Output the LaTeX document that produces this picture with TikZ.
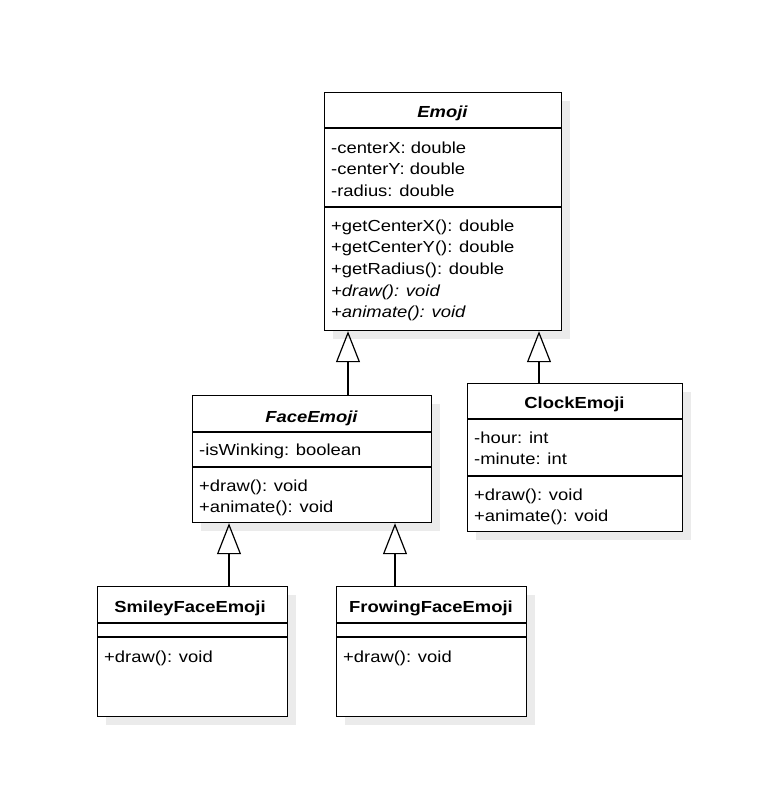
\documentclass[tikz,border=0pt]{standalone}
\usepackage{fontspec}
\setmainfont{Liberation Sans}[FakeStretch=1.15]
\usetikzlibrary{arrows.meta,shadows}
\begin{document}
\begin{tikzpicture}[x=1pt,y=-1pt,
  cls/.style={draw, line width=1.2pt, fill=white, anchor=north west, inner sep=0pt,
    drop shadow={shadow xshift=8pt, shadow yshift=-8pt, opacity=1, fill=black!8}},
  sepline/.style={line width=1.2pt},
  txt/.style={anchor=base west, inner sep=0pt, font=\fontsize{16}{19}\selectfont},
  ttl/.style={anchor=base, inner sep=0pt, font=\fontsize{16}{19}\selectfont\bfseries},
  gen/.style={line width=1.2pt, -{Triangle[open, length=31pt, width=24pt, line width=1.2pt]}}
]
\useasboundingbox (0,0) rectangle (783,804);

% boxes
\node[cls, minimum width=237pt, minimum height=238pt] (emoji) at (324,92) {};
\node[cls, minimum width=239pt, minimum height=127pt] (face) at (192,395) {};
\node[cls, minimum width=215pt, minimum height=148pt] (clock) at (467,383) {};
\node[cls, minimum width=190pt, minimum height=130pt] (smiley) at (97,586) {};
\node[cls, minimum width=190pt, minimum height=130pt] (frow) at (336,586) {};

% separators
\draw[sepline] (emoji.north west) ++(0,36) -- ++(237,0);
\draw[sepline] (emoji.north west) ++(0,115) -- ++(237,0);
\draw[sepline] (face.north west) ++(0,37) -- ++(239,0);
\draw[sepline] (face.north west) ++(0,72) -- ++(239,0);
\draw[sepline] (clock.north west) ++(0,36) -- ++(215,0);
\draw[sepline] (clock.north west) ++(0,93) -- ++(215,0);
\draw[sepline] (smiley.north west) ++(0,37) -- ++(190,0);
\draw[sepline] (smiley.north west) ++(0,51) -- ++(190,0);
\draw[sepline] (frow.north west) ++(0,37) -- ++(190,0);
\draw[sepline] (frow.north west) ++(0,51) -- ++(190,0);

% Emoji
\node[ttl] (emojiT) at (442.5,117) {\itshape Emoji};
\node[txt] (emojiA1) at (331,153) {-centerX: double};
\node[txt] (emojiA2) at (331,174.5) {-centerY: double};
\node[txt] (emojiA3) at (331,196) {-radius: double};
\node[txt] (emojiM1) at (331,231) {+getCenterX(): double};
\node[txt] (emojiM2) at (331,252.7) {+getCenterY(): double};
\node[txt] (emojiM3) at (331,274.4) {+getRadius(): double};
\node[txt] (emojiM4) at (331,296) {\itshape +draw(): void};
\node[txt] (emojiM5) at (331,317.8) {\itshape +animate(): void};

% FaceEmoji
\node[ttl] (faceT) at (311.5,422) {\itshape FaceEmoji};
\node[txt] (faceA1) at (199,455) {-isWinking: boolean};
\node[txt] (faceM1) at (199,491) {+draw(): void};
\node[txt] (faceM2) at (199,512) {+animate(): void};

% ClockEmoji
\node[ttl] (clockT) at (574.5,408) {ClockEmoji};
\node[txt] (clockA1) at (474,443) {-hour: int};
\node[txt] (clockA2) at (474,464) {-minute: int};
\node[txt] (clockM1) at (474,500) {+draw(): void};
\node[txt] (clockM2) at (474,521) {+animate(): void};

% Smiley
\node[ttl] (smileyT) at (190,612) {SmileyFaceEmoji};
\node[txt] (smileyM1) at (104,662) {+draw(): void};

% Frowing
\node[ttl] (frowT) at (431,612) {FrowingFaceEmoji};
\node[txt] (frowM1) at (343,662) {+draw(): void};

% connectors
\coordinate (c1) at (348,0);
\coordinate (c2) at (539,0);
\coordinate (c3) at (229,0);
\coordinate (c4) at (395,0);
\draw[gen] (face.north -| c1) -- (emoji.south -| c1);
\draw[gen] (clock.north -| c2) -- (emoji.south -| c2);
\draw[gen] (smiley.north -| c3) -- (face.south -| c3);
\draw[gen] (frow.north -| c4) -- (face.south -| c4);
\end{tikzpicture}
\end{document}
